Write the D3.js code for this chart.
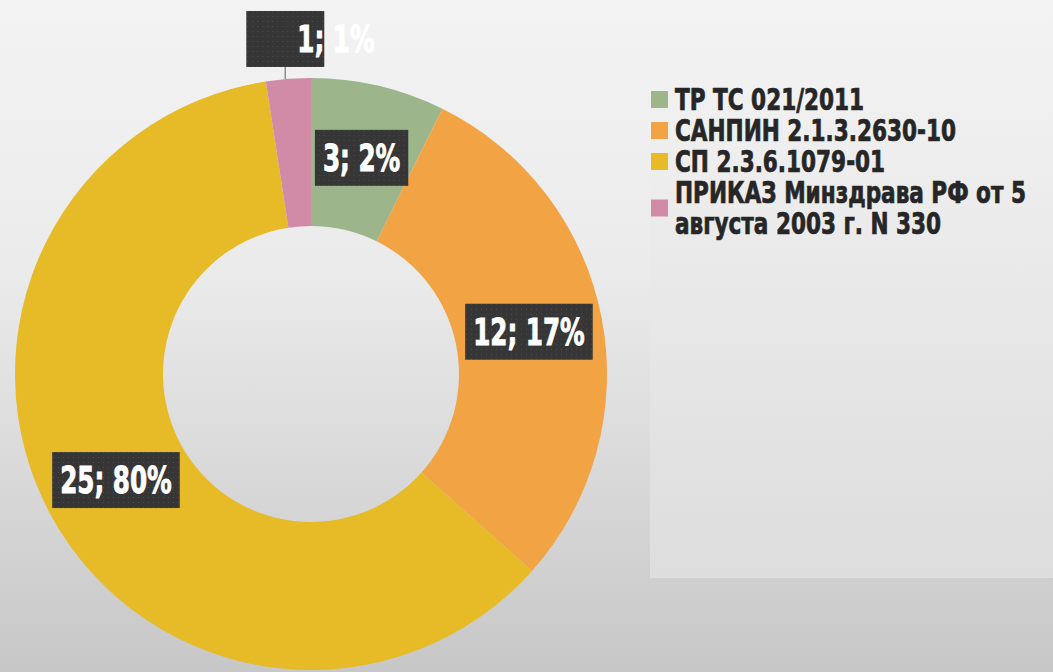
<!DOCTYPE html>
<html>
<head>
<meta charset="utf-8">
<script src="https://cdn.jsdelivr.net/npm/d3@7"></script>
<style>
  body { margin: 0; overflow: hidden; }
  svg text { font-family: "DejaVu Sans Condensed", "Liberation Sans Narrow", "Arial Narrow", sans-serif; font-weight: bold; }
</style>
</head>
<body>
<svg id="chart"></svg>
<script>
var width = 1053,
    height = 672;

// data
var categories = ["ТР ТС 021/2011", "САНПИН 2.1.3.2630-10", "СП 2.3.6.1079-01", "ПРИКАЗ Минздрава РФ от 5 августа 2003 г. N 330"];
var legendLines = [["ТР ТС 021/2011"], ["САНПИН 2.1.3.2630-10"], ["СП 2.3.6.1079-01"], ["ПРИКАЗ Минздрава РФ от 5", "августа 2003 г. N 330"]];
var counts = [3, 12, 25, 1];
var pctLabels = ["2%", "17%", "80%", "1%"];
var colors = ["#9db58b", "#f2a343", "#e6bb27", "#d18ba7"];

var cx = 311, cy = 374, outerR = 296, innerR = 148;
var squeeze = 0.74;   // the original font is much narrower than anything installed

var svg = d3.select("#chart").attr("width", width).attr("height", height);
var defs = svg.append("defs");

var bg = defs.append("linearGradient").attr("id", "bg").attr("x1", 0).attr("y1", 0).attr("x2", 0).attr("y2", 1);
bg.append("stop").attr("offset", "0%").attr("stop-color", "#f3f3f3");
bg.append("stop").attr("offset", "40%").attr("stop-color", "#ebebeb");
bg.append("stop").attr("offset", "100%").attr("stop-color", "#c7c7c7");

var pg = defs.append("linearGradient").attr("id", "panel").attr("x1", 0).attr("y1", 0).attr("x2", 0).attr("y2", 1);
pg.append("stop").attr("offset", "0%").attr("stop-color", "#f1f1f1");
pg.append("stop").attr("offset", "100%").attr("stop-color", "#dddddd");

var dots = defs.append("pattern").attr("id", "dots").attr("patternUnits", "userSpaceOnUse")
    .attr("width", 5).attr("height", 5);
dots.append("rect").attr("width", 5).attr("height", 5).attr("fill", "#363636");
dots.append("rect").attr("x", 2).attr("y", 2).attr("width", 1).attr("height", 1).attr("fill", "#4e4e4e");

svg.append("rect").attr("width", width).attr("height", height).attr("fill", "url(#bg)");
svg.append("rect").attr("x", 650).attr("y", 75).attr("width", 403).attr("height", 503).attr("fill", "url(#panel)");

var pie = d3.pie().sort(null).value(function(d) { return d; });
var arcs = pie(counts);
var arc = d3.arc().innerRadius(innerR).outerRadius(outerR);

var g = svg.append("g").attr("transform", "translate(" + cx + "," + cy + ")");

g.selectAll("path.slice")
  .data(arcs)
  .enter().append("path")
  .attr("class", "slice")
  .attr("d", arc)
  .attr("fill", function(d, i) { return colors[i]; });

// data labels
var outerLabelArc = d3.arc().innerRadius(336).outerRadius(336);
arcs.forEach(function(d, i) {
  var outside = (d.endAngle - d.startAngle) < 0.2;
  var p = outside ? outerLabelArc.centroid(d) : arc.centroid(d);
  var txt = counts[i] + "; " + pctLabels[i];
  var lg = g.append("g").attr("transform", "translate(" + p[0] + "," + p[1] + ")");
  var box = lg.append("rect").attr("fill", "url(#dots)");
  var t = lg.append("text")
    .attr("fill", "#ffffff")
    .attr("stroke", "#ffffff").attr("stroke-width", 0.9)
    .attr("font-size", 37)
    .attr("dy", "0.36em")
    .attr("transform", "scale(" + squeeze + ",1)")
    .text(txt);
  var w = t.node().getComputedTextLength() * squeeze;
  if (outside) {
    box.attr("x", -39).attr("y", -28).attr("width", 78).attr("height", 56);
    t.attr("x", 12 / squeeze).attr("text-anchor", "start");
    g.append("line")
      .attr("x1", p[0]).attr("y1", p[1] + 28)
      .attr("x2", p[0]).attr("y2", -Math.sqrt(outerR * outerR - p[0] * p[0]))
      .attr("stroke", "#8c8c8c").attr("stroke-width", 1.5);
  } else {
    var bw = w + 16;
    box.attr("x", -bw / 2).attr("y", -28).attr("width", bw).attr("height", 56);
    t.attr("text-anchor", "middle");
  }
});

// legend
var legend = svg.append("g").attr("class", "legend");
var rowY = 110, lineH = 31;
legendLines.forEach(function(lines, i) {
  var first = rowY;
  lines.forEach(function(line, j) {
    legend.append("text")
      .attr("x", 675 / 0.8).attr("y", rowY)
      .attr("transform", "scale(0.8,1)")
      .attr("font-size", 30)
      .attr("fill", "#262626")
      .attr("stroke", "#262626").attr("stroke-width", 0.7)
      .text(line);
    rowY += lineH;
  });
  var last = rowY - lineH;
  var mid = (first + last) / 2 - 11;
  legend.append("rect")
    .attr("x", 651).attr("y", mid - 8)
    .attr("width", 17).attr("height", 17)
    .attr("fill", colors[i]);
});
</script>
</body>
</html>
